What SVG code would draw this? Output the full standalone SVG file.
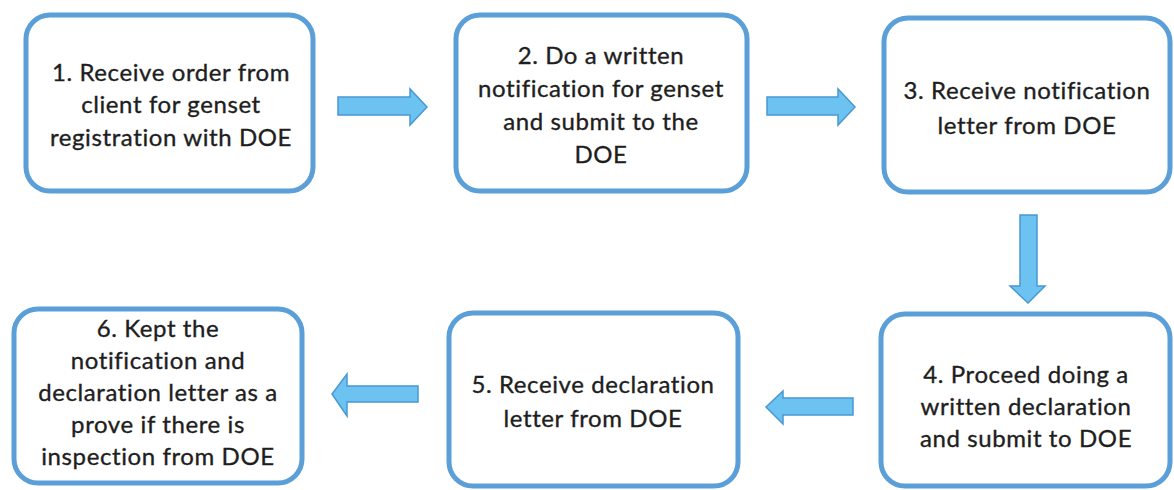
<svg xmlns="http://www.w3.org/2000/svg" width="1174" height="490" viewBox="0 0 1174 490">
<style>
.box{fill:#fff;stroke:#5b9fd9;stroke-width:5}
.lbl{font-family:"Lato","Liberation Sans",sans-serif;font-size:24px;letter-spacing:0.6px;fill:#1e1e1e;stroke:#1e1e1e;stroke-width:0.35;text-anchor:middle}
.arr{fill:#6cc3f1;stroke:#4a98d2;stroke-width:1.5;stroke-linejoin:miter}
</style>
<rect width="1174" height="490" fill="#fff"/>
<g id="node1">
<rect class="box" x="26" y="15" width="287" height="176" rx="24"/>
<text class="lbl" x="171" y="81">1. Receive order from</text>
<text class="lbl" x="171" y="113">client for genset</text>
<text class="lbl" x="171" y="146">registration with DOE</text>
</g>
<g id="node2">
<rect class="box" x="456" y="15" width="291" height="176" rx="24"/>
<text class="lbl" x="601" y="64">2. Do a written</text>
<text class="lbl" x="601" y="97">notification for genset</text>
<text class="lbl" x="601" y="130">and submit to the</text>
<text class="lbl" x="601" y="163">DOE</text>
</g>
<g id="node3">
<rect class="box" x="884" y="18" width="286" height="174" rx="24"/>
<text class="lbl" x="1027" y="99">3. Receive notification</text>
<text class="lbl" x="1027" y="134">letter from DOE</text>
</g>
<g id="node4">
<rect class="box" x="881" y="314" width="289" height="172" rx="24"/>
<text class="lbl" x="1026" y="383">4. Proceed doing a</text>
<text class="lbl" x="1026" y="415">written declaration</text>
<text class="lbl" x="1026" y="447">and submit to DOE</text>
</g>
<g id="node5">
<rect class="box" x="449" y="313" width="289" height="173" rx="24"/>
<text class="lbl" x="593" y="393">5. Receive declaration</text>
<text class="lbl" x="593" y="427">letter from DOE</text>
</g>
<g id="node6">
<rect class="box" x="14" y="309" width="288" height="174" rx="24"/>
<text class="lbl" x="158" y="337">6. Kept the</text>
<text class="lbl" x="158" y="369">notification and</text>
<text class="lbl" x="158" y="401">declaration letter as a</text>
<text class="lbl" x="158" y="433">prove if there is</text>
<text class="lbl" x="158" y="465">inspection from DOE</text>
</g>
<g id="connectors">
<polygon class="arr" points="338,97 410,97 410,89 427,107 410,125 410,115 338,115"/>
<polygon class="arr" points="767,97 838,97 838,89 855,107 838,125 838,115 767,115"/>
<polygon class="arr" points="1020,215 1037,215 1037,286 1045,286 1028,303 1010,286 1020,286"/>
<polygon class="arr" points="853,398 783,398 783,391 766,407 783,424 783,415 853,415"/>
<polygon class="arr" points="418,386 347,386 347,374 332,394 347,416 347,402 418,402"/>
</g>
</svg>
